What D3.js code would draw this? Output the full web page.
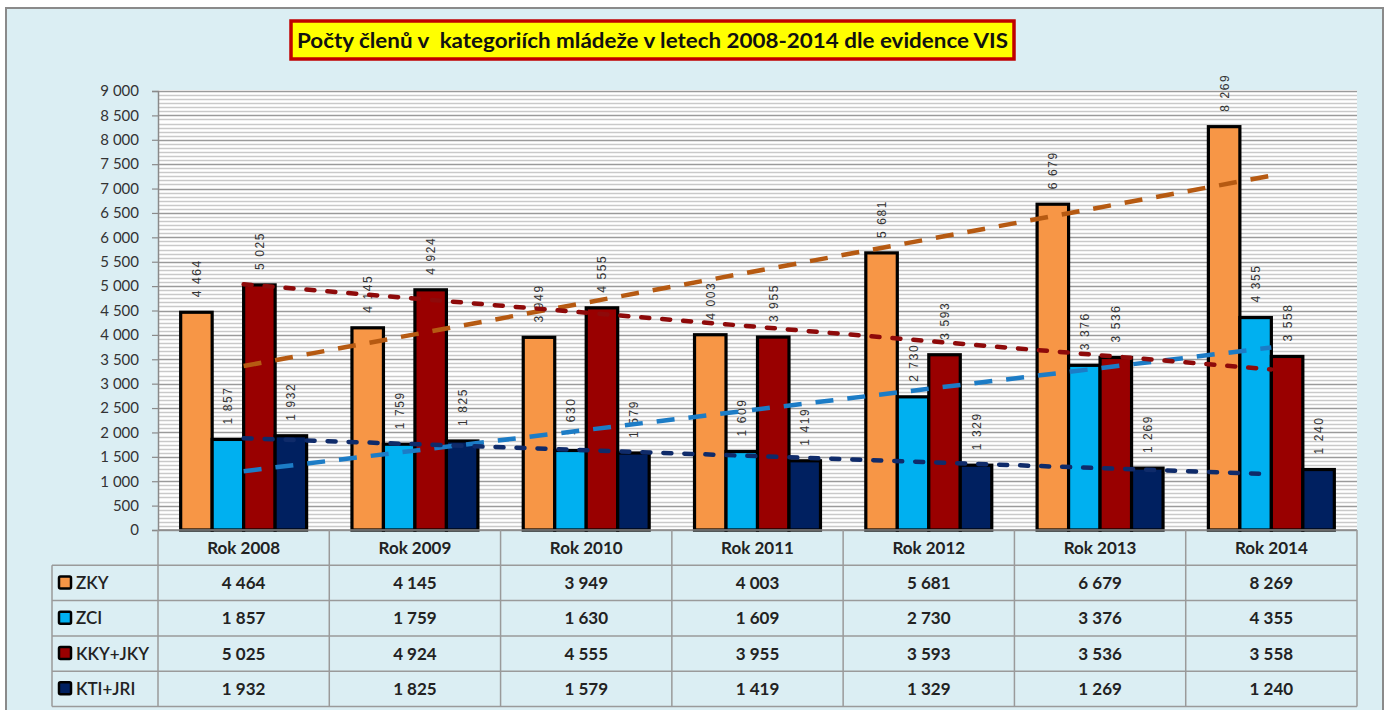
<!DOCTYPE html>
<html>
<head>
<meta charset="utf-8">
<script src="https://cdn.jsdelivr.net/npm/d3@7"></script>
<style>
  html, body { margin: 0; padding: 0; background: #fff; }
  svg { display: block; }
</style>
</head>
<body>
<div id="chart"></div>
<script>
// Data
var categories = ["Rok 2008", "Rok 2009", "Rok 2010", "Rok 2011", "Rok 2012", "Rok 2013", "Rok 2014"];
var seriesNames = ["ZKY", "ZCI", "KKY+JKY", "KTI+JRI"];
var zky = [4464, 4145, 3949, 4003, 5681, 6679, 8269];
var zci = [1857, 1759, 1630, 1609, 2730, 3376, 4355];
var kky = [5025, 4924, 4555, 3955, 3593, 3536, 3558];
var kti = [1932, 1825, 1579, 1419, 1329, 1269, 1240];
var yTickValues = [0, 500, 1000, 1500, 2000, 2500, 3000, 3500, 4000, 4500, 5000, 5500, 6000, 6500, 7000, 7500, 8000, 8500, 9000];
var title = "Počty členů v  kategoriích mládeže v letech 2008-2014 dle evidence VIS";

var seriesValues = [zky, zci, kky, kti];
var barColors = ["#F79646", "#00B0F0", "#990000", "#002060"];
var trendColors = ["#B65A12", "#1C7CC6", "#8E0A0A", "#0F2B6A"];
var trendDash = ["18,14", "18,14", "8,13", "8,13"];

var width = 1387, height = 710;
var plot = {left: 158, right: 1357, top: 90, bottom: 530};
var font = "Lato, 'Open Sans', sans-serif";

var fmt = d3.formatLocale({decimal: ",", thousands: "\u00a0", grouping: [3], currency: ["", ""]}).format(",d");

var svg = d3.select("#chart").append("svg")
    .attr("width", width)
    .attr("height", height);

// outer frame
svg.append("rect")
    .attr("x", 0).attr("y", 0).attr("width", width).attr("height", height)
    .attr("fill", "#ffffff");
svg.append("rect")
    .attr("x", 6).attr("y", 8).attr("width", 1377).attr("height", 710)
    .attr("fill", "#DBEEF3")
    .attr("stroke", "#8a8a8a")
    .attr("stroke-width", 2);

var x0 = d3.scaleBand()
    .domain(categories)
    .range([plot.left, plot.right]);

var x1 = d3.scaleBand()
    .domain(seriesNames)
    .range([0, x0.bandwidth()])
    .paddingInner(0)
    .paddingOuter(0.72);

var y = d3.scaleLinear()
    .domain([0, 9000])
    .range([plot.bottom, plot.top + 1]);

// plot area with striped fill
svg.append("rect")
    .attr("x", plot.left).attr("y", plot.top)
    .attr("width", plot.right - plot.left).attr("height", plot.bottom - plot.top)
    .attr("fill", "#ffffff");

var minorTicks = d3.range(0, 9000, 500 / 6).filter(function(d){ return d % 500 !== 0; });
svg.append("g").selectAll("line")
    .data(minorTicks)
  .enter().append("line")
    .attr("x1", plot.left).attr("x2", plot.right)
    .attr("y1", function(d){ return Math.round(y(d)) + 0.5; })
    .attr("y2", function(d){ return Math.round(y(d)) + 0.5; })
    .attr("stroke", "#c9c9c9")
    .attr("stroke-width", 1.6);

svg.append("g").selectAll("line")
    .data(yTickValues)
  .enter().append("line")
    .attr("x1", plot.left).attr("x2", plot.right)
    .attr("y1", function(d){ return Math.round(y(d)) + 0.5; })
    .attr("y2", function(d){ return Math.round(y(d)) + 0.5; })
    .attr("stroke", "#9a9a9a")
    .attr("stroke-width", 1.4);

// y axis
var yAxis = svg.append("g")
    .attr("transform", "translate(" + plot.left + ",0)")
    .call(d3.axisLeft(y).tickValues(yTickValues).tickFormat(fmt).tickSizeOuter(0).tickSize(6).tickPadding(13));
yAxis.select(".domain").attr("stroke", "#8a8a8a").attr("stroke-width", 1.5);
yAxis.selectAll(".tick line").attr("stroke", "#8a8a8a").attr("stroke-width", 1.2);
yAxis.selectAll("text")
    .attr("font-family", font)
    .attr("font-size", 15)
    .attr("fill", "#333333");

// bars
var groups = svg.append("g").selectAll("g")
    .data(categories)
  .enter().append("g")
    .attr("transform", function(d){ return "translate(" + x0(d) + ",0)"; });

groups.selectAll("rect")
    .data(function(d, i){ return seriesNames.map(function(s, j){ return {s: s, j: j, v: seriesValues[j][i]}; }); })
  .enter().append("rect")
    .attr("x", function(d){ return x1(d.s); })
    .attr("y", function(d){ return y(d.v); })
    .attr("width", x1.bandwidth())
    .attr("height", function(d){ return y(0) - y(d.v); })
    .attr("fill", function(d){ return barColors[d.j]; })
    .attr("stroke", "#000")
    .attr("stroke-width", 3.2);

// data labels, rotated
groups.selectAll("text")
    .data(function(d, i){ return seriesNames.map(function(s, j){ return {s: s, j: j, v: seriesValues[j][i]}; }); })
  .enter().append("text")
    .attr("transform", function(d){
      return "translate(" + (x1(d.s) + x1.bandwidth() / 2 + 4.5) + "," + (y(d.v) - 15) + ") rotate(-90)";
    })
    .attr("font-family", "'Liberation Sans', Arial, sans-serif")
    .attr("font-size", 12)
    .attr("letter-spacing", 1.6)
    .attr("fill", "#333")
    .text(function(d){ return fmt(d.v); });

// linear trend lines (least squares, as in the spreadsheet)
var xs = categories.map(function(c, i){ return i + 1; });
var trends = seriesValues.map(function(vals, j){
  var mx = d3.mean(xs), my = d3.mean(vals);
  var num = d3.sum(xs, function(xv, i){ return (xv - mx) * (vals[i] - my); });
  var den = d3.sum(xs, function(xv){ return (xv - mx) * (xv - mx); });
  var slope = num / den, icpt = my - slope * mx;
  return {j: j, pts: [[categories[0], icpt + slope * 1], [categories[6], icpt + slope * 7]]};
});

var line = d3.line()
    .x(function(p){ return x0(p[0]) + x0.bandwidth() / 2; })
    .y(function(p){ return y(p[1]); });

svg.append("g").selectAll("path")
    .data(trends)
  .enter().append("path")
    .attr("d", function(d){ return line(d.pts); })
    .attr("fill", "none")
    .attr("stroke", function(d){ return trendColors[d.j]; })
    .attr("stroke-width", 4.5)
    .attr("stroke-dasharray", function(d){ return trendDash[d.j]; })
    .attr("stroke-linecap", function(d){ return d.j >= 2 ? "round" : "butt"; });

// data table
var rowH = 35.3;
var tableTop = plot.bottom;
var tableLeft = 52;
var tbl = svg.append("g");
var gridCol = "#9a9a9a";

// horizontal lines
[0, 1, 2, 3, 4, 5].forEach(function(r){
  var yy = tableTop + r * rowH;
  tbl.append("line")
      .attr("x1", r === 0 ? plot.left : tableLeft)
      .attr("x2", plot.right)
      .attr("y1", yy).attr("y2", yy)
      .attr("stroke", r === 0 ? "#8a8a8a" : gridCol)
      .attr("stroke-width", 1.5);
});
// vertical lines
tbl.append("line")
    .attr("x1", tableLeft).attr("x2", tableLeft)
    .attr("y1", tableTop + rowH).attr("y2", tableTop + 5 * rowH)
    .attr("stroke", gridCol).attr("stroke-width", 1.5);
tbl.selectAll(".vline")
    .data(categories.concat(["end"]))
  .enter().append("line")
    .attr("x1", function(d){ return d === "end" ? plot.right : x0(d); })
    .attr("x2", function(d){ return d === "end" ? plot.right : x0(d); })
    .attr("y1", tableTop)
    .attr("y2", tableTop + 5 * rowH)
    .attr("stroke", gridCol)
    .attr("stroke-width", 1.5);

// header
tbl.selectAll(".hdr")
    .data(categories)
  .enter().append("text")
    .attr("x", function(d){ return x0(d) + x0.bandwidth() / 2; })
    .attr("y", tableTop + rowH / 2 + 6)
    .attr("text-anchor", "middle")
    .attr("font-family", font)
    .attr("font-weight", "bold")
    .attr("font-size", 17)
    .attr("fill", "#222")
    .text(function(d){ return d; });

// rows
seriesNames.forEach(function(s, j){
  var cy = tableTop + (j + 1) * rowH + rowH / 2;
  tbl.append("rect")
      .attr("x", 59).attr("y", cy - 6.5)
      .attr("width", 12).attr("height", 12)
      .attr("rx", 1.5)
      .attr("fill", barColors[j])
      .attr("stroke", "#000")
      .attr("stroke-width", 2.5);
  tbl.append("text")
      .attr("x", 76).attr("y", cy + 6)
      .attr("font-family", font)
      .attr("font-weight", 600)
      .attr("font-size", 17)
      .attr("fill", "#222")
      .text(s);
  tbl.selectAll(".v" + j)
      .data(seriesValues[j])
    .enter().append("text")
      .attr("x", function(d, i){ return x0(categories[i]) + x0.bandwidth() / 2; })
      .attr("y", cy + 6)
      .attr("text-anchor", "middle")
      .attr("font-family", font)
      .attr("font-weight", "bold")
      .attr("font-size", 17)
      .attr("fill", "#222")
      .text(function(d){ return fmt(d); });
});

// title box
svg.append("rect")
    .attr("x", 291).attr("y", 21)
    .attr("width", 723).attr("height", 38)
    .attr("fill", "#FFFF00")
    .attr("stroke", "#C00000")
    .attr("stroke-width", 3.5);
svg.append("text")
    .attr("x", 297).attr("y", 48)
    .attr("font-family", font)
    .attr("font-weight", "bold")
    .attr("font-size", 21.5)
    .attr("fill", "#111")
    .attr("textLength", 711)
    .attr("lengthAdjust", "spacingAndGlyphs")
    .attr("xml:space", "preserve")
    .style("white-space", "pre")
    .text(title);
</script>
</body>
</html>
